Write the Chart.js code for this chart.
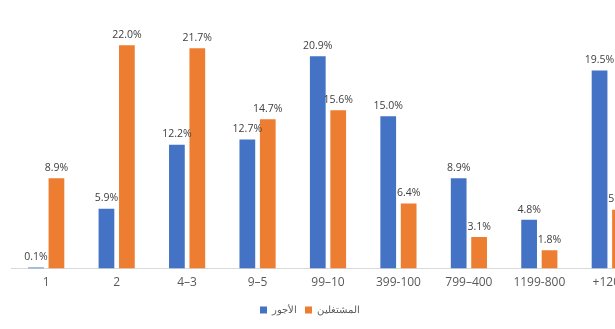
<!DOCTYPE html>
<html>
<head>
<meta charset="utf-8">
<script src="https://cdn.jsdelivr.net/npm/chart.js@4/dist/chart.umd.min.js"></script>
<style>
  html, body { margin: 0; padding: 0; overflow: hidden; background: #fff; }
  #wrap { width: 656px; height: 329px; position: relative; }
</style>
</head>
<body>
<div id="wrap"><canvas id="sizeChart"></canvas></div>
<script>
const categories = ["1", "2", "4–3", "9–5", "99–10", "399-100", "799–400", "1199-800", "+1200"];
const wagesShare = [0.1, 5.9, 12.2, 12.7, 20.9, 15.0, 8.9, 4.8, 19.5];
const workersShare = [8.9, 22.0, 21.7, 14.7, 15.6, 6.4, 3.1, 1.8, 5.8];
const seriesNames = ["الأجور", "المشتغلين"];

// value labels above each bar
const barLabels = {
  id: "barLabels",
  afterDatasetsDraw(chart) {
    const ctx = chart.ctx;
    ctx.save();
    ctx.font = "10.5px 'Open Sans', sans-serif";
    ctx.fillStyle = "#404040";
    ctx.textAlign = "center";
    ctx.textBaseline = "bottom";
    chart.data.datasets.forEach((ds, i) => {
      chart.getDatasetMeta(i).data.forEach((bar, j) => {
        ctx.fillText(ds.data[j].toFixed(1) + "%", bar.x, bar.y - 5);
      });
    });
    ctx.restore();
  }
};

// the canvas runs past the window on the right, so pull the legend back to the visible middle
const legendShift = {
  id: "legendShift",
  afterLayout(chart) {
    if (chart.legend) {
      chart.legend.left -= 18;
      chart.legend.right -= 18;
    }
  }
};

const ctx = document.getElementById("sizeChart").getContext("2d");
new Chart(ctx, {
  type: "bar",
  data: {
    labels: categories,
    datasets: [
      {
        label: seriesNames[0],
        data: wagesShare,
        backgroundColor: "#4472c4",
        barPercentage: 0.77,
        categoryPercentage: 0.58
      },
      {
        label: seriesNames[1],
        data: workersShare,
        backgroundColor: "#ed7d31",
        barPercentage: 0.77,
        categoryPercentage: 0.58
      }
    ]
  },
  options: {
    responsive: true,
    maintainAspectRatio: false,
    animation: false,
    layout: { padding: { left: 11, right: 11, top: 4, bottom: 4 } },
    plugins: {
      legend: {
        position: "bottom",
        labels: {
          boxWidth: 7,
          boxHeight: 7,
          padding: 8,
          color: "#595959",
          font: { family: "'Open Sans', sans-serif", size: 10 }
        }
      },
      tooltip: { enabled: false }
    },
    scales: {
      x: {
        grid: { display: false, drawTicks: false },
        border: { color: "#d9d9d9", width: 1 },
        ticks: {
          color: "#595959",
          padding: 7,
          maxRotation: 0,
          font: { family: "'Open Sans', sans-serif", size: 12 }
        }
      },
      y: {
        display: false,
        min: 0,
        max: 26.05
      }
    }
  },
  plugins: [barLabels, legendShift]
});
</script>
</body>
</html>
